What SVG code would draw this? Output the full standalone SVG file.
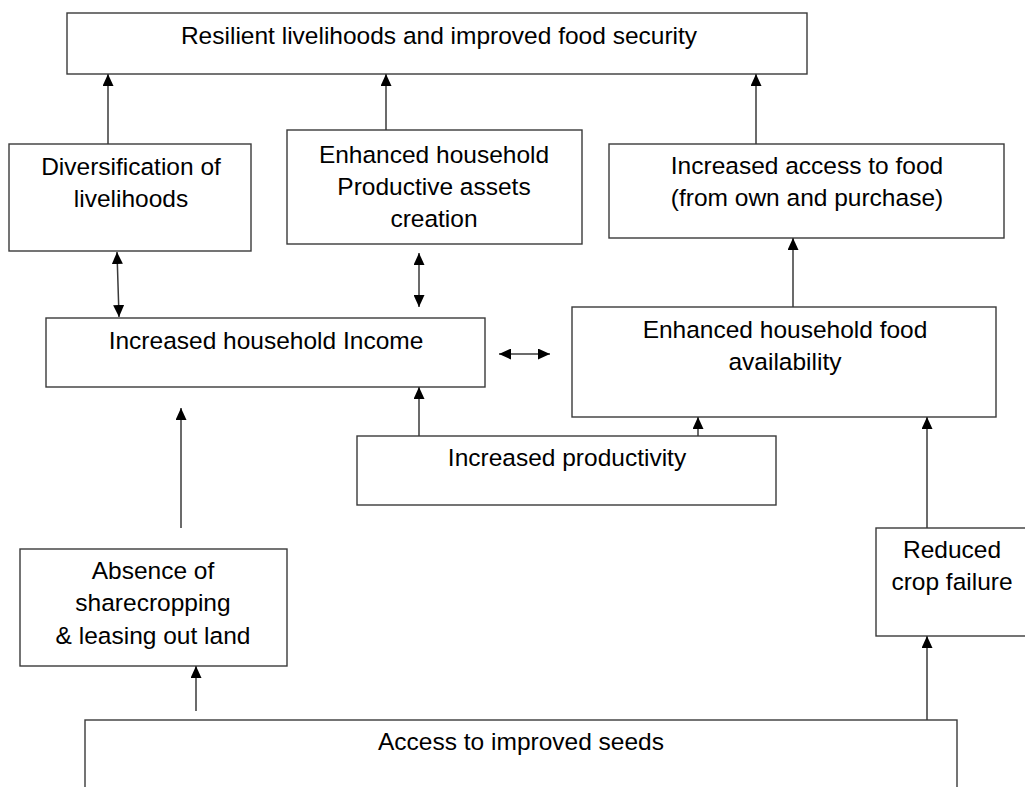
<svg xmlns="http://www.w3.org/2000/svg" width="1025" height="787" viewBox="0 0 1025 787">
<style>
.box{fill:#fff;stroke:#3a3a3a;stroke-width:1.4}
.t{font-family:"Liberation Sans",Arial,sans-serif;font-size:24.5px;fill:#000;text-anchor:middle}
.c{stroke:#3a3a3a;stroke-width:1.5;fill:none}
.a{marker-end:url(#ah)}
.d{marker-start:url(#ah);marker-end:url(#ah)}
</style>
<defs>
<marker id="ah" markerUnits="userSpaceOnUse" markerWidth="12" markerHeight="11" refX="12" refY="5.5" orient="auto-start-reverse">
<path d="M0,0 L12,5.5 L0,11 z" fill="#000"/>
</marker>
</defs>
<rect width="1025" height="787" fill="#fff"/>
<g id="n-resilient"><rect class="box" x="67" y="13" width="740" height="61"/><text class="t" x="439" y="44">Resilient livelihoods and improved food security</text></g>
<g id="n-diversification"><rect class="box" x="9" y="144" width="242" height="107"/><text class="t" x="131" y="175">Diversification of</text><text class="t" x="131" y="207">livelihoods</text></g>
<g id="n-assets"><rect class="box" x="287" y="130" width="295" height="114"/><text class="t" x="434" y="163">Enhanced household</text><text class="t" x="434" y="195">Productive assets</text><text class="t" x="434" y="227">creation</text></g>
<g id="n-access-food"><rect class="box" x="609" y="144" width="395" height="94"/><text class="t" x="807" y="174">Increased access to food</text><text class="t" x="807" y="206">(from own and purchase)</text></g>
<g id="n-income"><rect class="box" x="46" y="318" width="439" height="69"/><text class="t" x="266" y="349">Increased household Income</text></g>
<g id="n-availability"><rect class="box" x="572" y="307" width="424" height="110"/><text class="t" x="785" y="338">Enhanced household food</text><text class="t" x="785" y="370">availability</text></g>
<g id="n-productivity"><rect class="box" x="357" y="436" width="419" height="69"/><text class="t" x="567" y="466">Increased productivity</text></g>
<g id="n-absence"><rect class="box" x="20" y="549" width="267" height="117"/><text class="t" x="153" y="579">Absence of</text><text class="t" x="153" y="611">sharecropping</text><text class="t" x="153" y="644">&amp; leasing out land</text></g>
<g id="n-reduced"><rect class="box" x="876" y="528" width="160" height="108"/><text class="t" x="952" y="558">Reduced</text><text class="t" x="952" y="590">crop failure</text></g>
<g id="n-seeds"><rect class="box" x="85" y="720" width="872" height="80"/><text class="t" x="521" y="750">Access to improved seeds</text></g>
<g id="connectors">
<line class="c a" x1="108" y1="144" x2="108" y2="74"/>
<line class="c a" x1="386" y1="130" x2="386" y2="74"/>
<line class="c a" x1="756" y1="144" x2="756" y2="74"/>
<line class="c d" x1="117" y1="252" x2="119" y2="317"/>
<line class="c d" x1="419" y1="253" x2="419" y2="307"/>
<line class="c d" x1="499" y1="354" x2="550" y2="354"/>
<line class="c a" x1="793" y1="307" x2="793" y2="238"/>
<line class="c a" x1="419" y1="436" x2="419" y2="387"/>
<line class="c a" x1="698" y1="436" x2="698" y2="417"/>
<line class="c a" x1="181" y1="528" x2="181" y2="408"/>
<line class="c a" x1="927" y1="528" x2="927" y2="417"/>
<line class="c a" x1="196" y1="711" x2="196" y2="666"/>
<line class="c a" x1="927" y1="720" x2="927" y2="636"/>
</g>
</svg>
